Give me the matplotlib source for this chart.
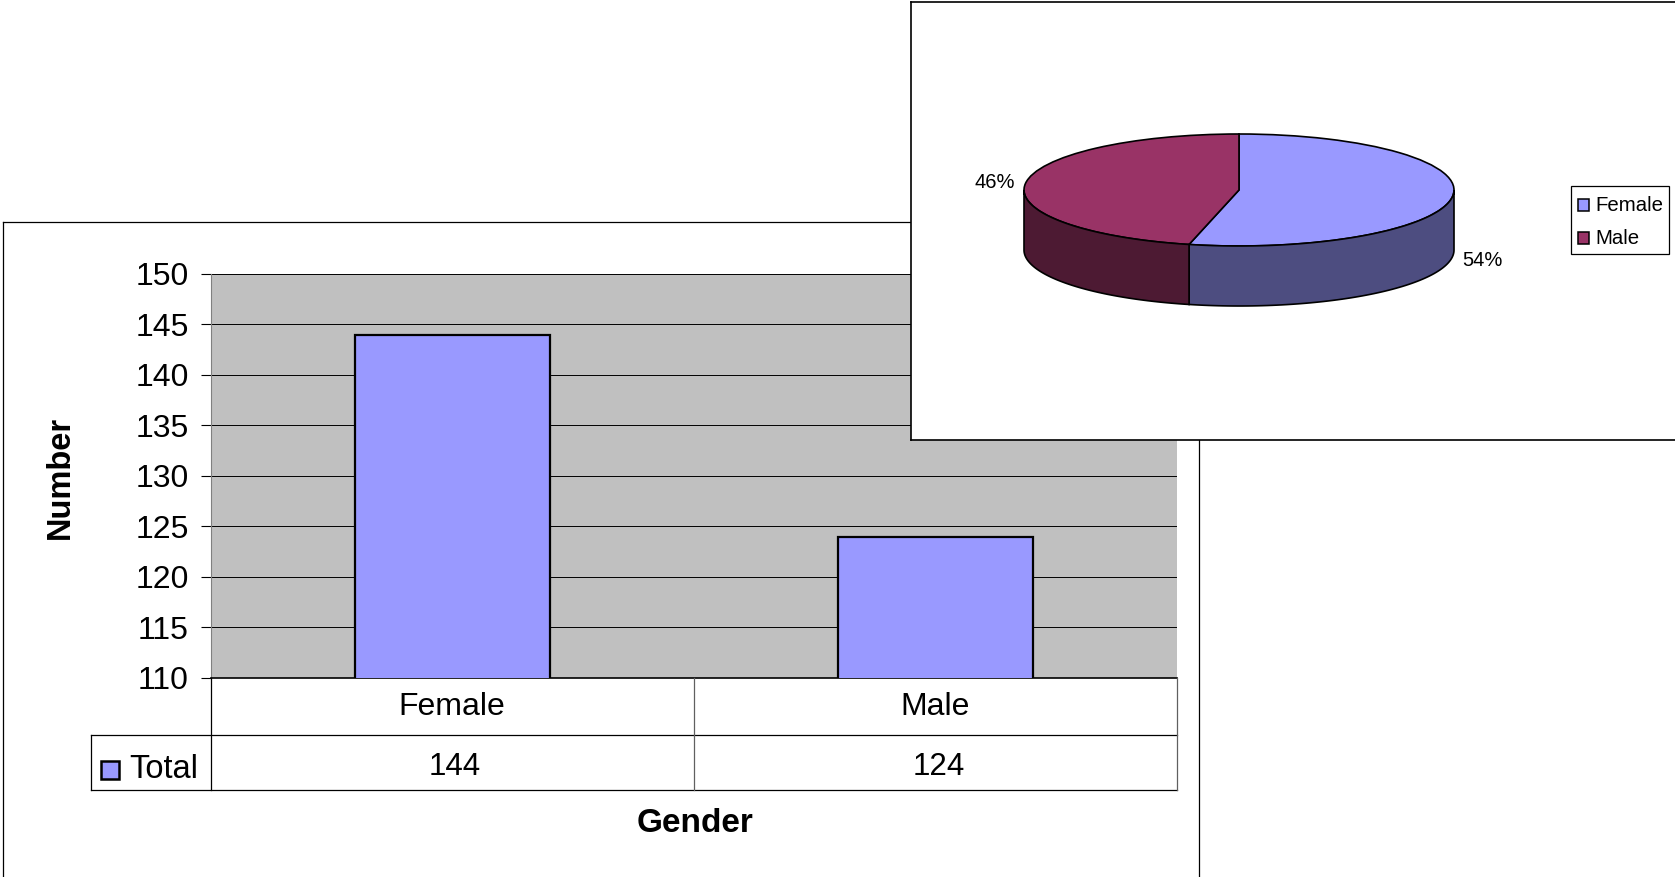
import matplotlib
matplotlib.use('Agg')
import matplotlib.pyplot as plt
import numpy as np
from matplotlib.lines import Line2D
from matplotlib.patches import Polygon, Rectangle

W, H = 1675, 877

categories = ['Female', 'Male']
totals = [144, 124]
series_name = 'Total'
y_ticks = [110, 115, 120, 125, 130, 135, 140, 145, 150]

BAR_BLUE = '#9999FF'
MAROON = '#993366'
WALL_BLUE = '#4D4D80'
WALL_MAROON = '#4D1A33'

plt.rcParams['font.family'] = ['Liberation Sans', 'DejaVu Sans']


def box(left, top, right, bottom):
    # pixel box (y down) to figure fractions
    return [left / W, 1 - bottom / H, (right - left) / W, (bottom - top) / H]


def hline(fig, x0, x1, y, color='black', lw=0.9):
    fig.add_artist(Line2D([x0 / W, x1 / W], [1 - y / H, 1 - y / H], color=color, lw=lw))


def vline(fig, x, y0, y1, color='black', lw=0.9):
    fig.add_artist(Line2D([x / W, x / W], [1 - y0 / H, 1 - y1 / H], color=color, lw=lw))


def fig_text(fig, x, y, s, **kw):
    fig.text(x / W, 1 - y / H, s, **kw)


def swatch(fig, x, y, w, h, color):
    fig.add_artist(Rectangle((x / W, 1 - (y + h) / H), w / W, h / H, facecolor=color,
                             edgecolor='black', lw=1.8, transform=fig.transFigure))


fig = plt.figure(figsize=(W / 100, H / 100), dpi=100, facecolor='white')

# outer frame of the bar chart, runs off the bottom of the page
hline(fig, 3.5, 1199, 222)
vline(fig, 3.5, 222, H)
vline(fig, 1199, 222, H)

# bar chart
ax = fig.add_axes(box(210.5, 274, 1177, 678), facecolor='#C0C0C0')
xs = np.arange(len(categories))
ax.bar(xs, totals, width=0.404, color=BAR_BLUE, edgecolor='black', lw=1.6, zorder=3)
ax.set_xlim(-0.5, 1.5)
ax.set_ylim(110, 150)
ax.set_yticks(y_ticks)
ax.tick_params(axis='y', labelsize=23, length=7.5, width=0.8, pad=8)
ax.set_xticks([])
ax.grid(axis='y', color='black', lw=0.7, zorder=1)
for side in ('top', 'right'):
    ax.spines[side].set_visible(False)
ax.spines['left'].set_color('#808080')
ax.spines['bottom'].set_linewidth(1.2)

# data table under the bars
hline(fig, 91, 1177, 735)
hline(fig, 91, 1177, 790)
vline(fig, 91, 735, 790)
vline(fig, 210.5, 678, 790)
vline(fig, 693.5, 678, 790, color='#606060')
vline(fig, 1177, 678, 790, color='#606060')
col_trans = ax.get_xaxis_transform()
for x, name, total in zip(xs, categories, totals):
    ax.annotate(name, (x, 0), xycoords=col_trans, xytext=(0, -29), textcoords='offset pixels',
                ha='center', va='center', fontsize=23, annotation_clip=False)
    ax.annotate(str(total), (x, 0), xycoords=col_trans, xytext=(3, -89), textcoords='offset pixels',
                ha='center', va='center', fontsize=22.5, annotation_clip=False)
swatch(fig, 101, 761, 18, 18, BAR_BLUE)
fig_text(fig, 129, 770, series_name, ha='left', va='center', fontsize=23.5)

fig_text(fig, 695, 823, 'Gender', ha='center', va='center', fontsize=24, fontweight='bold')
fig_text(fig, 60, 477, 'Number', ha='center', va='center', fontsize=23.5, fontweight='bold', rotation=90)

# pie chart panel on top of the bar chart
cx, cy, rx, ry, depth = 1239, 190, 215, 56, 60
pax = fig.add_axes(box(911, 2, W, 440), facecolor='white', zorder=5)
wedges, _ = pax.pie(totals, colors=[BAR_BLUE, MAROON], startangle=90, counterclock=False,
                    wedgeprops={'edgecolor': 'black', 'lw': 1.2})
pax.set_aspect('auto')
pax.set_frame_on(True)
pax.set_xlim((911 - cx) / rx, (W - cx) / rx)
pax.set_ylim((cy - 440) / ry, (cy - 2) / ry)
pax.spines['right'].set_visible(False)
for spine in pax.spines.values():
    spine.set_linewidth(1.2)

# walls only for the part of each slice that faces the viewer
for wedge, wall in zip(wedges, [WALL_BLUE, WALL_MAROON]):
    t1 = (wedge.theta1 + 360) % 360 if wedge.theta1 < 0 else wedge.theta1
    t2 = (wedge.theta2 + 360) % 360 if wedge.theta2 < 0 else wedge.theta2
    if t2 <= t1:
        t2 += 360
    ranges = [(max(t1, a), min(t2, b)) for a, b in [(180, 360), (540, 720)]]
    for a, b in ranges:
        if b <= a:
            continue
        t = np.radians(np.linspace(a, b, 80))
        top = np.column_stack([np.cos(t), np.sin(t)])
        low = top[::-1] - [0, depth / ry]
        pax.add_patch(Polygon(np.vstack([top, low]), closed=True, facecolor=wall,
                              edgecolor='black', lw=1.2))

shares = [round(100 * v / sum(totals)) for v in totals]
fig_text(fig, 1482, 260, f'{shares[0]}%', ha='center', va='center', fontsize=14.5, zorder=10)
fig_text(fig, 995, 182, f'{shares[1]}%', ha='center', va='center', fontsize=14.5, zorder=10)

# pie legend
leg = Rectangle((1571 / W, 1 - 254 / H), 98 / W, 68 / H, facecolor='white', edgecolor='black',
                lw=0.9, transform=fig.transFigure, zorder=9)
fig.add_artist(leg)
for y, name, color in zip([205, 238], categories, [BAR_BLUE, MAROON]):
    r = Rectangle((1578 / W, 1 - (y + 6) / H), 11 / W, 12 / H, facecolor=color, edgecolor='black',
                  lw=1.1, transform=fig.transFigure, zorder=10)
    fig.add_artist(r)
    fig_text(fig, 1595, y + 0.5, name, ha='left', va='center', fontsize=14.7, zorder=10)

fig.savefig('out.png', dpi=100, facecolor='white')
